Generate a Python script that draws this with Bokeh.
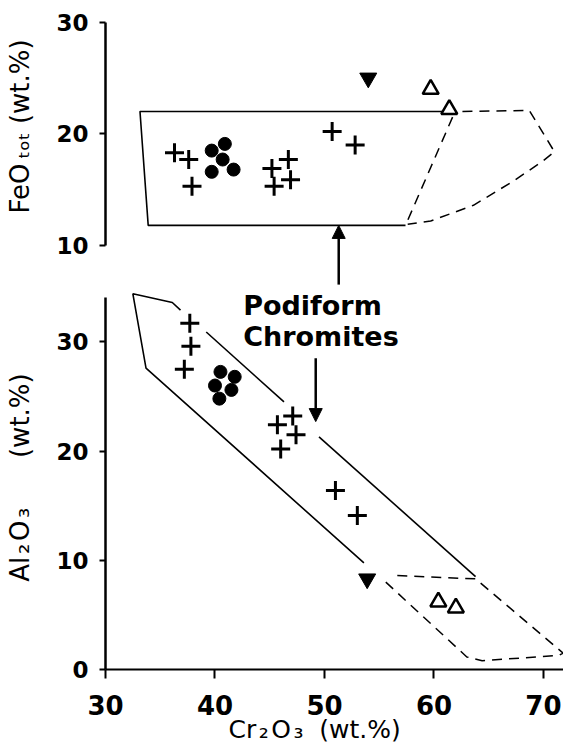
from bokeh.plotting import figure
from bokeh.layouts import column
from bokeh.models import Range1d, FixedTicker, Arrow, NormalHead
from bokeh.core.properties import value
from bokeh.embed import file_html
from bokeh.resources import INLINE

# ---------------- data ----------------
# upper panel: FeO_tot vs Cr2O3
fe_cross_cr = [36.3, 37.6, 37.9, 45.2, 46.7, 46.9, 45.4, 50.7, 52.8]
fe_cross_fe = [18.3, 17.7, 15.3, 16.9, 17.7, 15.9, 15.3, 20.2, 19.0]
fe_dot_cr = [39.7, 40.9, 40.7, 39.7, 41.7]
fe_dot_fe = [18.5, 19.1, 17.7, 16.6, 16.8]
fe_inv_cr = [54.0]
fe_inv_fe = [25.0]
fe_tri_cr = [59.7, 61.4]
fe_tri_fe = [24.0, 22.2]

# lower panel: Al2O3 vs Cr2O3
al_cross_cr = [37.7, 37.8, 37.2, 47.1, 45.7, 47.4, 46.0, 51.0, 53.0]
al_cross_al = [31.7, 29.6, 27.5, 23.2, 22.4, 21.5, 20.2, 16.4, 14.1]
al_dot_cr = [40.5, 41.8, 40.0, 41.5, 40.4]
al_dot_al = [27.25, 26.8, 26.0, 25.6, 24.8]
al_inv_cr = [53.9]
al_inv_al = [8.3]
al_tri_cr = [60.4, 62.0]
al_tri_al = [6.2, 5.65]

# podiform chromite field outlines
fe_field_cr = [60.9, 33.15, 33.9, 57.4]
fe_field_fe = [22.0, 22.0, 11.8, 11.8]
fe_ext_cr = [62.6, 68.7, 71.0, 70.0, 67.3, 63.6, 59.7, 57.6]
fe_ext_fe = [22.0, 22.1, 18.4, 17.6, 15.8, 13.6, 12.2, 11.9]
fe_ext2_cr = [61.7, 57.4]
fe_ext2_fe = [21.5, 11.8]

al_field_cr = [[53.6, 33.7, 32.5, 36.1, 36.85], [39.2, 46.3], [49.5, 63.8]]
al_field_al = [[9.76, 27.6, 34.4, 33.6, 32.9], [30.9, 24.5], [21.3, 8.5]]
al_ext_cr = [55.6, 63.0, 64.4, 71.4, 71.8, 63.8, 56.6]
al_ext_al = [8.0, 1.15, 0.8, 1.3, 1.5, 8.3, 8.6]

x_ticks = [30, 40, 50, 60, 70]
al_ticks = [0, 10, 20, 30]
fe_ticks = [10, 20, 30]

FONT = "DejaVu Sans"
X_RANGE = Range1d(30, 71.83)
HS = "\u200a"


def style(ax, size, standoff, tick_out, width):
    ax.axis_line_width = width
    ax.axis_line_color = "black"
    ax.major_tick_line_width = 2
    ax.major_tick_line_color = "black"
    ax.major_tick_out = tick_out
    ax.major_tick_in = 0
    ax.minor_tick_out = 0
    ax.minor_tick_in = 0
    ax.major_label_text_font = FONT
    ax.major_label_text_font_style = "bold"
    ax.major_label_text_font_size = size
    ax.major_label_text_color = "black"
    ax.major_label_standoff = standoff
    ax.axis_label_text_font = FONT
    ax.axis_label_text_font_style = "normal"
    ax.axis_label_text_color = "black"


def base(p):
    p.grid.visible = False
    p.outline_line_color = None
    p.background_fill_color = "white"
    p.border_fill_color = "white"


# ---------------- upper panel ----------------
top = figure(width=563, height=285, output_backend="svg", toolbar_location=None,
             x_range=X_RANGE, y_range=Range1d(6.42, 31.94), x_axis_location=None,
             min_border_left=105, min_border_right=0, min_border_top=0,
             min_border_bottom=0, title=None)
base(top)
fax = top.yaxis[0]
fax.bounds = (10, 30)
fax.ticker = FixedTicker(ticks=fe_ticks)
style(fax, "23px", 11, 6, 2.5)
fax.axis_label = "\u00a0" * 4 + "FeO\u2009\u209c\u2092\u209c\u00a0(wt.%)"
fax.axis_label_text_font_size = "26px"
fax.axis_label_standoff = 18

top.line(fe_field_cr, fe_field_fe, line_width=1.6, color="black")
top.line(fe_ext_cr, fe_ext_fe, line_width=1.5, color="black", line_dash="10 7")
top.line(fe_ext2_cr, fe_ext2_fe, line_width=1.5, color="black", line_dash="10 7")
top.scatter(fe_cross_cr, fe_cross_fe, marker="cross", size=19, line_width=3, color="black")
top.scatter(fe_dot_cr, fe_dot_fe, marker="circle", size=13, color="black")
top.scatter(fe_inv_cr, fe_inv_fe, marker="inverted_triangle", size=17, color="black")
top.scatter(fe_tri_cr, fe_tri_fe, marker="triangle", size=16, line_width=2.5,
            line_color="black", fill_color="white")
top.add_layout(Arrow(end=NormalHead(size=13, fill_color="black", line_color="black"),
                     x_start=51.3, y_start=6.5, x_end=51.3, y_end=11.8,
                     line_width=2.5, line_color="black"))

# ---------------- lower panel ----------------
bot = figure(width=563, height=466, output_backend="svg", toolbar_location=None,
             x_range=X_RANGE, y_range=Range1d(0, 35.16),
             min_border_left=105, min_border_right=0, min_border_top=0,
             min_border_bottom=82, title=None)
base(bot)
xax = bot.xaxis[0]
xax.ticker = FixedTicker(ticks=x_ticks)
style(xax, "26px", 16, 9, 2)
xax.axis_label = "Cr" + HS + "\u2082" + HS + "O" + HS + "\u2083\u00a0\u00a0(wt.%)" + "\u00a0" * 5
xax.axis_label_text_font_size = "25px"
xax.axis_label_standoff = -3

yax = bot.yaxis[0]
yax.bounds = (0, 34.1)
yax.ticker = FixedTicker(ticks=al_ticks)
style(yax, "23px", 11, 6, 2.5)
yax.axis_label = "Al" + HS + "\u2082" + HS + "O" + HS + "\u2083" + "\u00a0" * 6 + "(wt.%)"
yax.axis_label_text_font_size = "26px"
yax.axis_label_standoff = 18

bot.multi_line(al_field_cr, al_field_al, line_width=1.6, color="black")
bot.line(al_ext_cr, al_ext_al, line_width=1.5, color="black", line_dash="10 7")
bot.scatter(al_cross_cr, al_cross_al, marker="cross", size=19, line_width=3, color="black")
bot.scatter(al_dot_cr, al_dot_al, marker="circle", size=13, color="black")
bot.scatter(al_inv_cr, al_inv_al, marker="inverted_triangle", size=17, color="black")
bot.scatter(al_tri_cr, al_tri_al, marker="triangle", size=16, line_width=2.5,
            line_color="black", fill_color="white")

bot.text(x=[42.57], y=[34.73], text=["Podiform\nChromites"], text_font=value(FONT),
         text_font_style="bold", text_font_size="27px", text_baseline="top",
         text_align="left", text_line_height=0.98, text_color="black")
bot.add_layout(Arrow(end=NormalHead(size=13, fill_color="black", line_color="black"),
                     x_start=49.2, y_start=28.5, x_end=49.2, y_end=22.7,
                     line_width=2.5, line_color="black"))

layout = column(top, bot, spacing=0)
open("out.html", "w").write(file_html(layout, INLINE))
